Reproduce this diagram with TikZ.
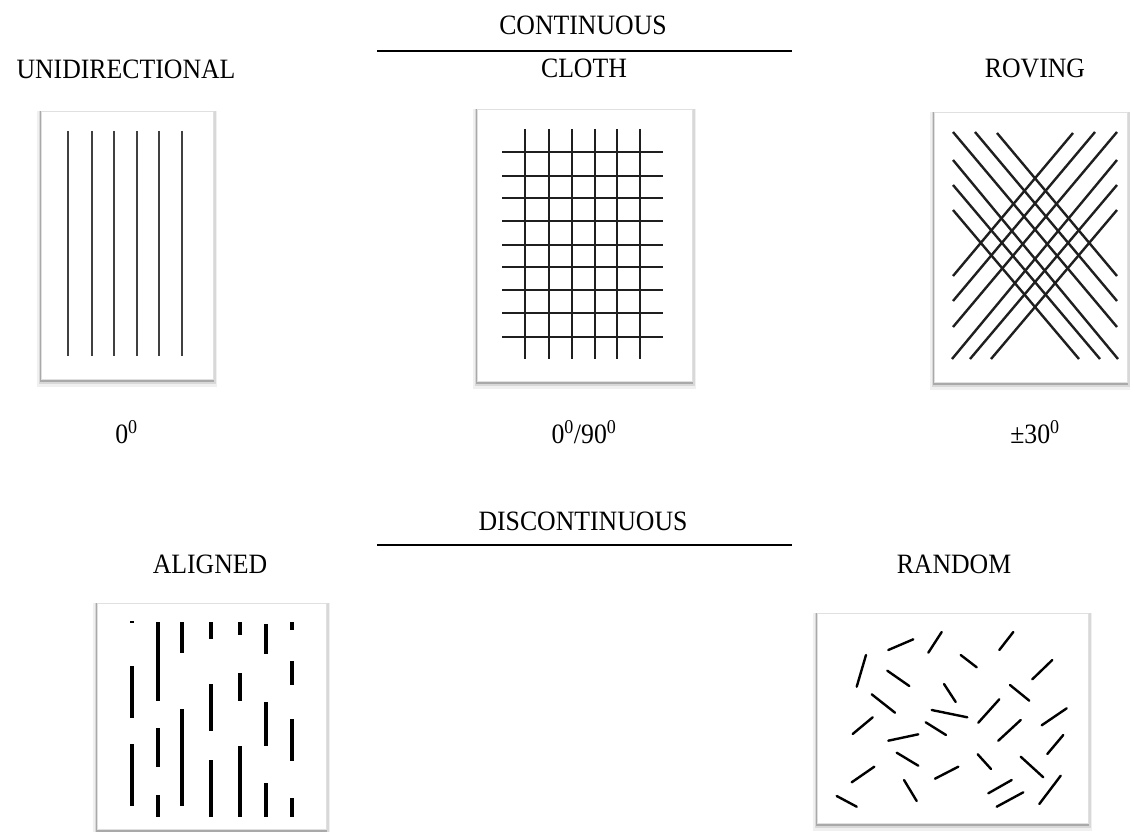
\documentclass[tikz,border=0pt]{standalone}
\usepackage{fontspec}
\setmainfont{Liberation Serif}[FakeStretch=0.92]
\begin{document}
\begin{tikzpicture}[x=1pt,y=-1pt,
  lbl/.style={anchor=base,inner sep=0pt,font=\fontsize{28}{30}\selectfont},
  rule/.style={line width=2.6pt,black},
  udline/.style={line width=2pt,black!75},
  clothline/.style={line width=2.3pt,black!88},
  rovline/.style={line width=2.4pt,black!88},
  fibdash/.style={line width=4pt,black},
  fiber/.style={line width=2.4pt,black,line cap=round}]
\useasboundingbox (0,0) rectangle (1130,832);
\newcommand\panelbox[4]{%
  \fill[black,opacity=0.06] ({#1-4},{#2}) rectangle ({#3+4},{#4+8});
  \fill[black,opacity=0.10] ({#1-2.5},{#2}) rectangle ({#3+2.5},{#4+5});
  \fill[black,opacity=0.22] ({#1-1.2},{#2}) rectangle ({#3+1.2},{#4+2.5});
  \fill[white] (#1,#2) rectangle (#3,#4);
  \draw[black!12,line width=0.8pt] (#1,#2) rectangle (#3,#4);}

% headings
\node[lbl] (cont) at (583,35) {CONTINUOUS};
\coordinate (c1) at (377,51); \coordinate (c2) at (792,51);
\draw[rule] (c1) -- (c2);
\node[lbl] (uni) at (126,79) {UNIDIRECTIONAL};
\node[lbl] (cloth) at (584,78) {CLOTH};
\node[lbl] (rov) at (1035,78) {ROVING};
\node[lbl] (a0) at (126.5,443) {0\textsuperscript{0}};
\node[lbl] (a090) at (584,443) {0\textsuperscript{0}/90\textsuperscript{0}};
\node[lbl] (a30) at (1035,443) {±30\textsuperscript{0}};
\node[lbl] (disc) at (583,530) {DISCONTINUOUS};
\coordinate (d1) at (377,545); \coordinate (d2) at (792,545);
\draw[rule] (d1) -- (d2);
\node[lbl] (ali) at (210,573) {ALIGNED};
\node[lbl] (ran) at (954,573) {RANDOM};

% unidirectional
\panelbox{41}{111}{213}{379}
\foreach \x in {68,92,114,137,159,182} \draw[udline] (\x,131) -- (\x,356);

% cloth
\panelbox{477}{109}{692}{381}
\foreach \x in {525,549,572,595,617,640} \draw[clothline] (\x,129) -- (\x,359);
\foreach \y in {152,176,198,221,245,267,290,313,337} \draw[clothline] (502,\y) -- (663,\y);

% roving
\panelbox{934}{112}{1127}{382}
\foreach \xa/\ya/\xb/\yb in {953/132/1117/327, 975/132/1117/301, 997/133/1117/276,
  953/160/1118/359, 953/185/1100/359, 953/210/1079/359} {
  \draw[rovline] (\xa,\ya) -- (\xb,\yb);
  \draw[rovline] ({2070-\xa},\ya) -- ({2070-\xb},\yb);
}

% aligned
\panelbox{97}{603}{326}{829}
\draw[line width=2pt] (130,622) -- (134,622);
\foreach \x/\ya/\yb in {131.7/666/718, 131.7/744/806,
  158.3/622/701, 158.3/728/767, 158.3/795/817,
  182.3/622/653, 182.3/709/806,
  211/622/639, 211/684/731, 211/760/817,
  240/622/635, 240/673/701, 240/746/817,
  266/624/654, 266/702/746, 266/783/817,
  291.7/622/630, 291.7/661/685, 291.7/719/761, 291.7/798/817}
  \draw[fibdash] (\x,\ya) -- (\x,\yb);

% random
\panelbox{817}{613}{1088}{823}
\foreach \xa/\ya/\xb/\yb in {
  888.3/650/913.3/639.3, 928.3/652.7/941.7/632, 999.3/650/1013.3/632,
  856.7/686.7/866/655, 960.7/655/976.7/667.3, 1032.3/679.3/1052.3/660,
  887.3/670.7/909.3/686, 944/684/955.7/702, 1010/685/1029.3/700.7,
  871.7/694.3/895/712.7, 931.7/710/967.3/717.3, 978.3/722.7/999.3/699.3,
  1041.7/725.3/1066.7/708.3, 852.7/734/872.7/717.3, 925.7/722.3/946/735,
  998.3/740.7/1020.7/720, 888.3/740.7/918.3/734.3, 1047.3/754/1063.3/735,
  896.7/752.7/918.3/765.7, 977.7/754.3/991/769, 1020.7/756.7/1043.3/777.3,
  851.7/782.3/874.3/766.7, 935/778.7/958.3/766.7, 904/780/916.7/801,
  988.3/793.3/1011.7/780, 836.7/796/856.7/806.7, 996.7/806.7/1023.3/792.3,
  1039.3/804/1060.7/775.7}
  \draw[fiber] (\xa,\ya) -- (\xb,\yb);
\end{tikzpicture}
\end{document}
